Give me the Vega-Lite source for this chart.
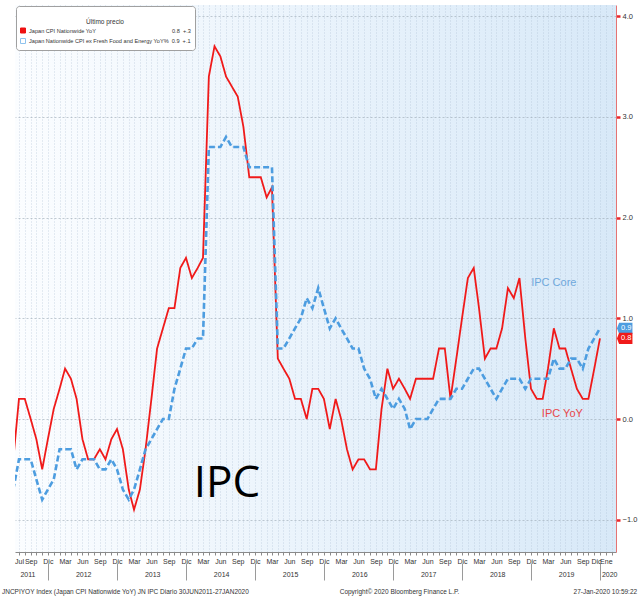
{
  "$schema": "https://vega.github.io/schema/vega-lite/v6.json",
  "width": 601,
  "height": 547,
  "autosize": "none",
  "padding": {"left": 15, "top": 5, "right": 23, "bottom": 49},
  "background": "#ffffff",
  "config": {
    "view": {"stroke": null, "fill": {"gradient": "linear", "x1": 0, "y1": 0, "x2": 1, "y2": 0, "stops": [{"offset": 0, "color": "#fbfdff"}, {"offset": 1, "color": "#d8e9f8"}]}},
    "font": "Liberation Sans, sans-serif"
  },
  "datasets": {
    "cpi": [
      {"d": "2011-06-01", "cpi": -0.4, "core": -0.7},
      {"d": "2011-07-01", "cpi": 0.2, "core": -0.4},
      {"d": "2011-08-01", "cpi": 0.2, "core": -0.4},
      {"d": "2011-09-01", "cpi": 0.0, "core": -0.4},
      {"d": "2011-10-01", "cpi": -0.2, "core": -0.6},
      {"d": "2011-11-01", "cpi": -0.5, "core": -0.8},
      {"d": "2011-12-01", "cpi": -0.2, "core": -0.7},
      {"d": "2012-01-01", "cpi": 0.1, "core": -0.6},
      {"d": "2012-02-01", "cpi": 0.3, "core": -0.3},
      {"d": "2012-03-01", "cpi": 0.5, "core": -0.3},
      {"d": "2012-04-01", "cpi": 0.4, "core": -0.3},
      {"d": "2012-05-01", "cpi": 0.2, "core": -0.5},
      {"d": "2012-06-01", "cpi": -0.2, "core": -0.4},
      {"d": "2012-07-01", "cpi": -0.4, "core": -0.4},
      {"d": "2012-08-01", "cpi": -0.4, "core": -0.4},
      {"d": "2012-09-01", "cpi": -0.3, "core": -0.5},
      {"d": "2012-10-01", "cpi": -0.4, "core": -0.5},
      {"d": "2012-11-01", "cpi": -0.2, "core": -0.4},
      {"d": "2012-12-01", "cpi": -0.1, "core": -0.5},
      {"d": "2013-01-01", "cpi": -0.3, "core": -0.7},
      {"d": "2013-02-01", "cpi": -0.7, "core": -0.8},
      {"d": "2013-03-01", "cpi": -0.9, "core": -0.7},
      {"d": "2013-04-01", "cpi": -0.7, "core": -0.5},
      {"d": "2013-05-01", "cpi": -0.3, "core": -0.3},
      {"d": "2013-06-01", "cpi": 0.2, "core": -0.2},
      {"d": "2013-07-01", "cpi": 0.7, "core": -0.1},
      {"d": "2013-08-01", "cpi": 0.9, "core": 0.0},
      {"d": "2013-09-01", "cpi": 1.1, "core": 0.0},
      {"d": "2013-10-01", "cpi": 1.1, "core": 0.3},
      {"d": "2013-11-01", "cpi": 1.5, "core": 0.5},
      {"d": "2013-12-01", "cpi": 1.6, "core": 0.7},
      {"d": "2014-01-01", "cpi": 1.4, "core": 0.7},
      {"d": "2014-02-01", "cpi": 1.5, "core": 0.8},
      {"d": "2014-03-01", "cpi": 1.6, "core": 0.8},
      {"d": "2014-04-01", "cpi": 3.4, "core": 2.7},
      {"d": "2014-05-01", "cpi": 3.7, "core": 2.7},
      {"d": "2014-06-01", "cpi": 3.6, "core": 2.7},
      {"d": "2014-07-01", "cpi": 3.4, "core": 2.8},
      {"d": "2014-08-01", "cpi": 3.3, "core": 2.7},
      {"d": "2014-09-01", "cpi": 3.2, "core": 2.7},
      {"d": "2014-10-01", "cpi": 2.9, "core": 2.7},
      {"d": "2014-11-01", "cpi": 2.4, "core": 2.5},
      {"d": "2014-12-01", "cpi": 2.4, "core": 2.5},
      {"d": "2015-01-01", "cpi": 2.4, "core": 2.5},
      {"d": "2015-02-01", "cpi": 2.2, "core": 2.5},
      {"d": "2015-03-01", "cpi": 2.3, "core": 2.5},
      {"d": "2015-04-01", "cpi": 0.6, "core": 0.7},
      {"d": "2015-05-01", "cpi": 0.5, "core": 0.7},
      {"d": "2015-06-01", "cpi": 0.4, "core": 0.8},
      {"d": "2015-07-01", "cpi": 0.2, "core": 0.9},
      {"d": "2015-08-01", "cpi": 0.2, "core": 1.0},
      {"d": "2015-09-01", "cpi": 0.0, "core": 1.2},
      {"d": "2015-10-01", "cpi": 0.3, "core": 1.1},
      {"d": "2015-11-01", "cpi": 0.3, "core": 1.3},
      {"d": "2015-12-01", "cpi": 0.2, "core": 1.1},
      {"d": "2016-01-01", "cpi": -0.1, "core": 0.9},
      {"d": "2016-02-01", "cpi": 0.2, "core": 1.0},
      {"d": "2016-03-01", "cpi": 0.0, "core": 0.9},
      {"d": "2016-04-01", "cpi": -0.3, "core": 0.8},
      {"d": "2016-05-01", "cpi": -0.5, "core": 0.7},
      {"d": "2016-06-01", "cpi": -0.4, "core": 0.7},
      {"d": "2016-07-01", "cpi": -0.4, "core": 0.5},
      {"d": "2016-08-01", "cpi": -0.5, "core": 0.4},
      {"d": "2016-09-01", "cpi": -0.5, "core": 0.2},
      {"d": "2016-10-01", "cpi": 0.1, "core": 0.3},
      {"d": "2016-11-01", "cpi": 0.5, "core": 0.2},
      {"d": "2016-12-01", "cpi": 0.3, "core": 0.1},
      {"d": "2017-01-01", "cpi": 0.4, "core": 0.2},
      {"d": "2017-02-01", "cpi": 0.3, "core": 0.1},
      {"d": "2017-03-01", "cpi": 0.2, "core": -0.1},
      {"d": "2017-04-01", "cpi": 0.4, "core": 0.0},
      {"d": "2017-05-01", "cpi": 0.4, "core": 0.0},
      {"d": "2017-06-01", "cpi": 0.4, "core": 0.0},
      {"d": "2017-07-01", "cpi": 0.4, "core": 0.1},
      {"d": "2017-08-01", "cpi": 0.7, "core": 0.2},
      {"d": "2017-09-01", "cpi": 0.7, "core": 0.2},
      {"d": "2017-10-01", "cpi": 0.2, "core": 0.2},
      {"d": "2017-11-01", "cpi": 0.6, "core": 0.3},
      {"d": "2017-12-01", "cpi": 1.0, "core": 0.3},
      {"d": "2018-01-01", "cpi": 1.4, "core": 0.4},
      {"d": "2018-02-01", "cpi": 1.5, "core": 0.5},
      {"d": "2018-03-01", "cpi": 1.1, "core": 0.5},
      {"d": "2018-04-01", "cpi": 0.6, "core": 0.4},
      {"d": "2018-05-01", "cpi": 0.7, "core": 0.3},
      {"d": "2018-06-01", "cpi": 0.7, "core": 0.2},
      {"d": "2018-07-01", "cpi": 0.9, "core": 0.3},
      {"d": "2018-08-01", "cpi": 1.3, "core": 0.4},
      {"d": "2018-09-01", "cpi": 1.2, "core": 0.4},
      {"d": "2018-10-01", "cpi": 1.4, "core": 0.4},
      {"d": "2018-11-01", "cpi": 0.8, "core": 0.3},
      {"d": "2018-12-01", "cpi": 0.3, "core": 0.4},
      {"d": "2019-01-01", "cpi": 0.2, "core": 0.4},
      {"d": "2019-02-01", "cpi": 0.2, "core": 0.4},
      {"d": "2019-03-01", "cpi": 0.5, "core": 0.4},
      {"d": "2019-04-01", "cpi": 0.9, "core": 0.6},
      {"d": "2019-05-01", "cpi": 0.7, "core": 0.5},
      {"d": "2019-06-01", "cpi": 0.7, "core": 0.5},
      {"d": "2019-07-01", "cpi": 0.5, "core": 0.6},
      {"d": "2019-08-01", "cpi": 0.3, "core": 0.6},
      {"d": "2019-09-01", "cpi": 0.2, "core": 0.5},
      {"d": "2019-10-01", "cpi": 0.2, "core": 0.7},
      {"d": "2019-11-01", "cpi": 0.5, "core": 0.8},
      {"d": "2019-12-01", "cpi": 0.8, "core": 0.9}
    ]
  },
  "resolve": {"axis": {"x": "independent", "y": "independent"}},
  "layer": [
    {
      "data": {"name": "cpi"},
      "transform": [{"fold": ["cpi", "core"], "as": ["series", "value"]}],
      "mark": {"type": "line", "clip": true, "strokeJoin": "miter"},
      "encoding": {
        "x": {
          "field": "d", "type": "temporal",
          "scale": {"type": "utc", "domain": [{"year": 2011, "month": 6, "date": 10, "utc": true}, {"year": 2020, "month": 2, "date": 24, "utc": true}]},
          "axis": {
            "orient": "bottom", "title": null,
            "tickCount": {"interval": "month", "step": 1},
            "labelExpr": "(utcmonth(datum.value) % 3 == 2 || (utcyear(datum.value) == 2011 && utcmonth(datum.value) == 6) || (utcyear(datum.value) == 2020 && utcmonth(datum.value) == 0)) ? ['Ene','Feb','Mar','Abr','May','Jun','Jul','Ago','Sep','Oct','Nov','Dic'][utcmonth(datum.value)] : ''",
            "labelOffset": {"condition": {"test": "utcyear(datum.value) == 2019 && utcmonth(datum.value) == 11", "value": -4}, "value": 0},
            "labelOverlap": false, "labelFlush": false, "labelBound": false,
            "labelFontSize": 7, "labelColor": "#333333", "labelPadding": 2, "labelBaseline": "top",
            "tickSize": 3, "tickColor": "#8a8a8a", "domainColor": "#8a8a8a",
            "grid": true, "gridColor": "#a9bccf", "gridDash": [1, 2], "gridOpacity": 0.55
          }
        },
        "y": {
          "field": "value", "type": "quantitative",
          "scale": {"domain": [-1.32, 4.11], "nice": false, "zero": false},
          "axis": {
            "orient": "right", "title": null, "values": [-1, 0, 1, 2, 3, 4], "format": ".1f",
            "labelFontSize": 7.5, "labelColor": "#333333", "labelPadding": 2,
            "tickColor": "#e8262b", "tickSize": 4, "tickWidth": 2.5,
            "domainColor": "#e57373", "domainWidth": 1,
            "grid": true, "gridColor": "#9aa6b2", "gridDash": [2, 2], "gridOpacity": 0.6
          }
        },
        "color": {
          "field": "series", "type": "nominal",
          "scale": {"range": ["#4d9de0", "#f01a1a"]},
          "legend": null
        },
        "strokeDash": {"field": "series", "type": "nominal", "scale": {"range": [[6, 3], [1, 0]]}, "legend": null},
        "strokeWidth": {"field": "series", "type": "nominal", "scale": {"range": [2.6, 1.8]}, "legend": null}
      }
    },
    {
      "data": {"name": "cpi"},
      "transform": [
        {"filter": "utcyear(toDate(datum.d)) == 2019 && utcmonth(toDate(datum.d)) == 11"},
        {"fold": ["cpi", "core"], "as": ["series", "value"]}
      ],
      "mark": {"type": "point", "shape": "square", "filled": true, "strokeWidth": 1, "opacity": 0},
      "encoding": {
        "x": {"field": "d", "type": "temporal", "axis": null},
        "y": {"field": "value", "type": "quantitative", "axis": null},
        "fill": {
          "field": "series", "type": "nominal",
          "scale": {"domain": ["cpi", "core"], "range": ["#ee1111", "#ffffff"]},
          "legend": {
            "orient": "top-left", "offset": 1,
            "title": ["", "Último precio"],
            "titleFontSize": 6.5, "titleFontWeight": "normal", "titleColor": "#333333", "titleAnchor": "middle", "titleLineHeight": 9, "titlePadding": 2,
            "labelFontSize": 5.6, "labelColor": "#333333", "labelLimit": 400, "labelOffset": 3,
            "symbolType": "square", "symbolSize": 25, "symbolStrokeWidth": 1, "symbolOpacity": 1,
            "fillColor": "#ffffff", "strokeColor": "#a0a0a0", "cornerRadius": 3, "padding": 4, "rowPadding": 0.5,
            "labelExpr": "datum.value == 'cpi' ? 'Japan CPI Nationwide YoY\u00a0\u00a0\u00a0\u00a0\u00a0\u00a0\u00a0\u00a0\u00a0\u00a0\u00a0\u00a0\u00a0\u00a0\u00a0\u00a0\u00a0\u00a0\u00a0\u00a0\u00a0\u00a0\u00a0\u00a0\u00a0\u00a0\u00a0\u00a0\u00a0\u00a0\u00a0\u00a0\u00a0\u00a0\u00a0\u00a0\u00a0\u00a0\u00a0\u00a0\u00a0\u00a0\u00a0\u00a0\u00a0\u00a0\u00a0\u00a0\u00a00.8\u00a0\u00a0+.3' : 'Japan Nationwide CPI ex Fresh Food and Energy YoY%\u00a0\u00a00.9\u00a0\u00a0+.1'"
          }
        },
        "stroke": {
          "field": "series", "type": "nominal",
          "scale": {"domain": ["cpi", "core"], "range": ["#ee1111", "#8fc3ee"]},
          "legend": {
            "orient": "top-left", "offset": 1,
            "title": ["", "Último precio"],
            "titleFontSize": 6.5, "titleFontWeight": "normal", "titleColor": "#333333", "titleAnchor": "middle", "titleLineHeight": 9, "titlePadding": 2,
            "labelFontSize": 5.6, "labelColor": "#333333", "labelLimit": 400, "labelOffset": 3,
            "symbolType": "square", "symbolSize": 25, "symbolStrokeWidth": 1, "symbolOpacity": 1,
            "fillColor": "#ffffff", "strokeColor": "#a0a0a0", "cornerRadius": 3, "padding": 4, "rowPadding": 0.5,
            "labelExpr": "datum.value == 'cpi' ? 'Japan CPI Nationwide YoY\u00a0\u00a0\u00a0\u00a0\u00a0\u00a0\u00a0\u00a0\u00a0\u00a0\u00a0\u00a0\u00a0\u00a0\u00a0\u00a0\u00a0\u00a0\u00a0\u00a0\u00a0\u00a0\u00a0\u00a0\u00a0\u00a0\u00a0\u00a0\u00a0\u00a0\u00a0\u00a0\u00a0\u00a0\u00a0\u00a0\u00a0\u00a0\u00a0\u00a0\u00a0\u00a0\u00a0\u00a0\u00a0\u00a0\u00a0\u00a0\u00a00.8\u00a0\u00a0+.3' : 'Japan Nationwide CPI ex Fresh Food and Energy YoY%\u00a0\u00a00.9\u00a0\u00a0+.1'"
          }
        }
      }
    },
    {
      "data": {"name": "cpi"},
      "transform": [
        {"filter": "utcyear(toDate(datum.d)) == 2019 && utcmonth(toDate(datum.d)) == 11"},
        {"fold": ["core", "cpi"], "as": ["series", "value"]}
      ],
      "mark": {"type": "point", "shape": "M -1 0 L -0.72 -0.72 L 1 -0.72 L 1 0.72 L -0.72 0.72 Z", "filled": true, "size": 240, "opacity": 1},
      "encoding": {
        "x": {"datum": {"year": 2020, "month": 4, "date": 10, "utc": true}, "type": "temporal", "axis": null},
        "y": {"field": "value", "type": "quantitative", "axis": null},
        "color": {"field": "series", "type": "nominal", "legend": null}
      }
    },
    {
      "data": {"name": "cpi"},
      "transform": [
        {"filter": "utcyear(toDate(datum.d)) == 2019 && utcmonth(toDate(datum.d)) == 11"},
        {"fold": ["core", "cpi"], "as": ["series", "value"]}
      ],
      "mark": {"type": "text", "color": "#ffffff", "fontSize": 7.5, "dx": 1.5, "align": "center", "baseline": "middle"},
      "encoding": {
        "x": {"datum": {"year": 2020, "month": 4, "date": 10, "utc": true}, "type": "temporal", "axis": null},
        "y": {"field": "value", "type": "quantitative", "axis": null},
        "text": {"field": "value", "type": "quantitative", "format": ".1f"}
      }
    },
    {
      "data": {"values": [{}]},
      "mark": {"type": "text", "text": "IPC Core", "color": "#6fa8dc", "fontSize": 11, "align": "center", "baseline": "alphabetic"},
      "encoding": {
        "x": {
          "datum": {"year": 2019, "month": 4, "date": 1, "utc": true}, "type": "temporal",
          "axis": {
            "orient": "bottom", "title": null, "offset": 11,
            "values": [
              {"year": 2011, "month": 12, "date": 1, "utc": true},
              {"year": 2012, "month": 12, "date": 1, "utc": true},
              {"year": 2013, "month": 12, "date": 1, "utc": true},
              {"year": 2014, "month": 12, "date": 1, "utc": true},
              {"year": 2015, "month": 12, "date": 1, "utc": true},
              {"year": 2016, "month": 12, "date": 1, "utc": true},
              {"year": 2017, "month": 12, "date": 1, "utc": true},
              {"year": 2018, "month": 12, "date": 1, "utc": true},
              {"year": 2019, "month": 12, "date": 1, "utc": true}
            ],
            "labels": false, "domain": false, "grid": false, "ticks": true, "tickSize": 17, "tickColor": "#9a9a9a", "tickWidth": 1
          }
        },
        "y": {"datum": 1.32, "type": "quantitative", "axis": null}
      }
    },
    {
      "data": {"values": [{}]},
      "mark": {"type": "text", "text": "IPC YoY", "color": "#e8474a", "fontSize": 11, "align": "center", "baseline": "alphabetic"},
      "encoding": {
        "x": {"datum": {"year": 2019, "month": 5, "date": 16, "utc": true}, "type": "temporal", "axis": null},
        "y": {"datum": 0.02, "type": "quantitative", "axis": null}
      }
    },
    {
      "data": {"values": [{}]},
      "mark": {"type": "text", "text": "IPC", "color": "#000000", "font": "Open Sans", "fontSize": 44, "align": "center", "baseline": "alphabetic"},
      "encoding": {
        "x": {
          "datum": {"year": 2014, "month": 7, "date": 6, "utc": true}, "type": "temporal",
          "axis": {
            "orient": "bottom", "title": null,
            "values": [
              {"year": 2011, "month": 8, "date": 15, "utc": true},
              {"year": 2012, "month": 6, "date": 5, "utc": true},
              {"year": 2013, "month": 6, "date": 5, "utc": true},
              {"year": 2014, "month": 6, "date": 5, "utc": true},
              {"year": 2015, "month": 6, "date": 5, "utc": true},
              {"year": 2016, "month": 6, "date": 5, "utc": true},
              {"year": 2017, "month": 6, "date": 5, "utc": true},
              {"year": 2018, "month": 6, "date": 5, "utc": true},
              {"year": 2019, "month": 6, "date": 5, "utc": true},
              {"year": 2020, "month": 1, "date": 19, "utc": true}
            ],
            "labelExpr": "'' + utcyear(datum.value)",
            "ticks": false, "tickSize": 0, "domain": false, "grid": false,
            "labelPadding": 18, "labelBaseline": "top", "labelFontSize": 7, "labelColor": "#333333",
            "labelOverlap": false, "labelFlush": false, "labelBound": false
          }
        },
        "y": {"datum": -0.775, "type": "quantitative", "axis": null}
      }
    },
    {
      "data": {"values": [{}]},
      "mark": {"type": "text", "text": "JNCPIYOY Index (Japan CPI Nationwide YoY) JN IPC  Diario 30JUN2011-27JAN2020", "color": "#333333", "fontSize": 6.5, "align": "left", "baseline": "middle"},
      "encoding": {
        "x": {"datum": {"year": 2011, "month": 4, "date": 2, "utc": true}, "type": "temporal", "axis": null},
        "y": {"datum": -1.72, "type": "quantitative", "axis": null}
      }
    },
    {
      "data": {"values": [{}]},
      "mark": {"type": "text", "text": "Copyright© 2020 Bloomberg Finance L.P.", "color": "#333333", "fontSize": 6.5, "align": "center", "baseline": "middle"},
      "encoding": {
        "x": {"datum": {"year": 2017, "month": 1, "date": 4, "utc": true}, "type": "temporal", "axis": null},
        "y": {"datum": -1.72, "type": "quantitative", "axis": null}
      }
    },
    {
      "data": {"values": [{}]},
      "mark": {"type": "text", "text": "27-Jan-2020 10:59:22", "color": "#333333", "fontSize": 6.5, "align": "right", "baseline": "middle"},
      "encoding": {
        "x": {"datum": {"year": 2020, "month": 6, "date": 15, "utc": true}, "type": "temporal", "axis": null},
        "y": {"datum": -1.72, "type": "quantitative", "axis": null}
      }
    }
  ]
}
